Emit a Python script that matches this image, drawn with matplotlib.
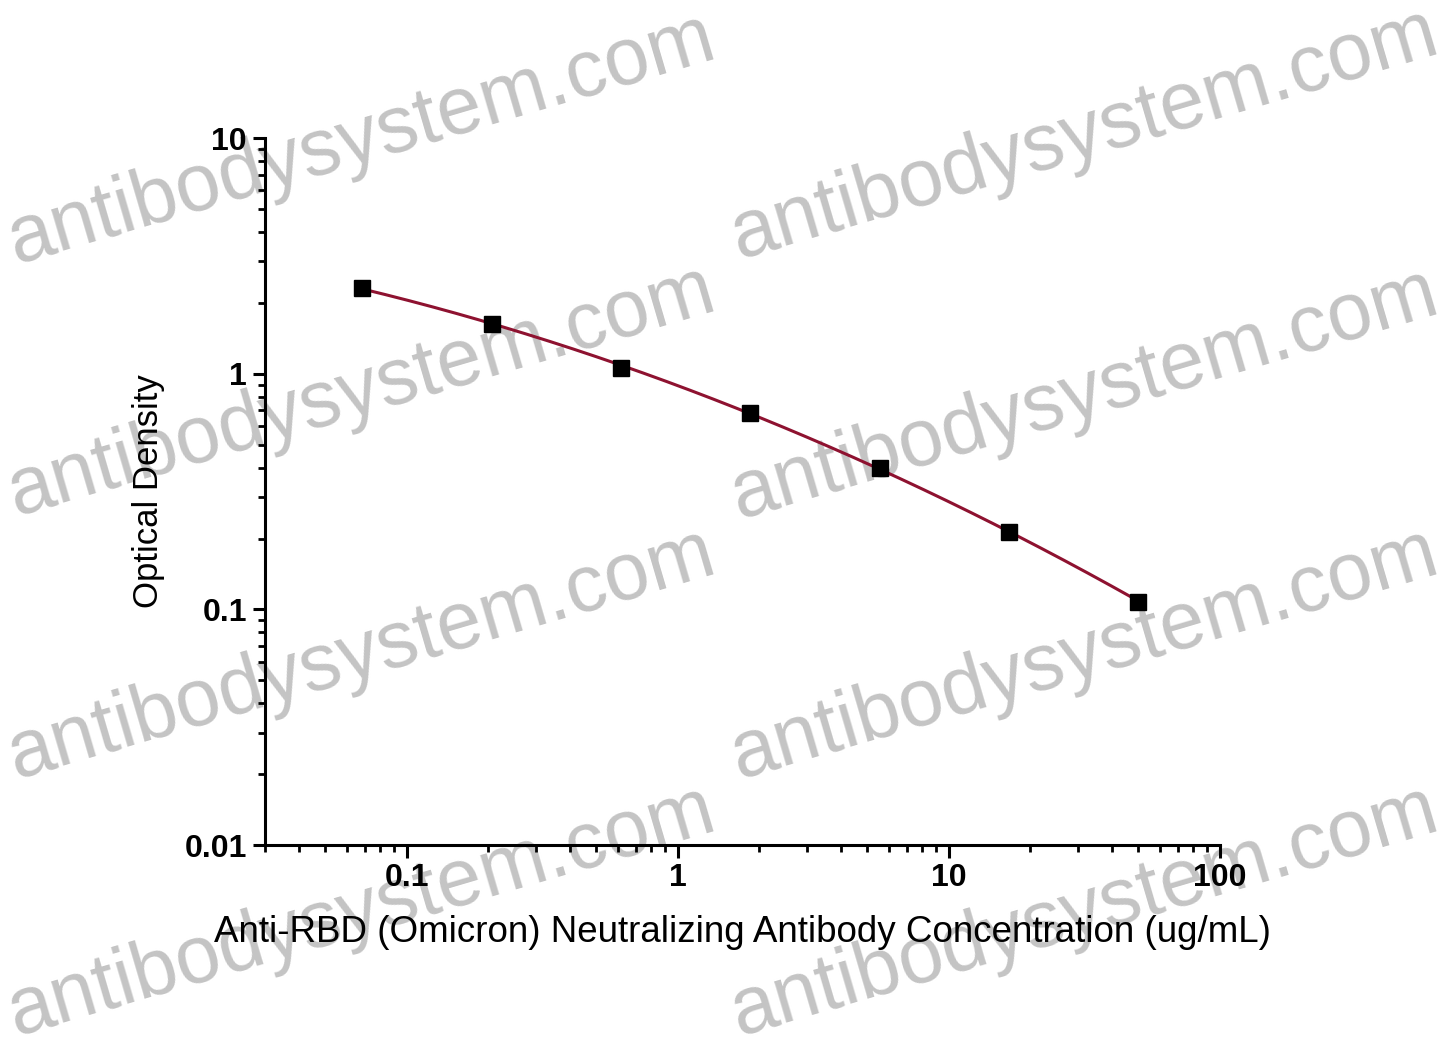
import matplotlib.pyplot as plt
import numpy as np

plt.rcParams['font.family'] = ['Liberation Sans', 'DejaVu Sans']

# ELISA standard curve (3-fold dilutions)
conc = [0.0686, 0.206, 0.617, 1.85, 5.56, 16.7, 50.0]
od = [2.31, 1.63, 1.06, 0.684, 0.40, 0.214, 0.108]

x_label = "Anti-RBD (Omicron) Neutralizing Antibody Concentration (ug/mL)"
y_label = "Optical Density"
watermark = "antibodysystem.com"

fig = plt.figure(figsize=(14.4, 10.46), dpi=100)
ax = fig.add_axes([0.184, 0.192, 0.663, 0.676])
ax.set_zorder(1)
ax.patch.set_alpha(0)

# smooth fit through the points in log-log space
lx, ly = np.log10(conc), np.log10(od)
coef = np.polyfit(lx, ly, 2)
xs = np.linspace(lx.min(), lx.max(), 200)
ax.plot(10 ** xs, 10 ** np.polyval(coef, xs), color='#8e1230', lw=2.2, zorder=3)
ax.plot(conc, od, 's', color='black', ms=11, zorder=4)

ax.set_xscale('log')
ax.set_yscale('log')
ax.set_xlim(0.03, 100)
ax.set_ylim(0.01, 10)
ax.set_xticks([0.1, 1, 10, 100])
ax.set_xticklabels(['0.1', '1', '10', '100'])
ax.set_yticks([0.01, 0.1, 1, 10])
ax.set_yticklabels(['0.01', '0.1', '1', '10'])

for s in ['top', 'right']:
    ax.spines[s].set_visible(False)
for s in ['left', 'bottom']:
    ax.spines[s].set_linewidth(2.2)

ax.tick_params(which='major', direction='out', length=9, width=2.2,
               labelsize=23, pad=4)
ax.tick_params(which='minor', direction='out', length=5, width=2.0)
for lab in ax.get_xticklabels() + ax.get_yticklabels():
    lab.set_fontweight('bold')

ax.set_xlabel(x_label, fontsize=26.5, labelpad=16)
ax.set_ylabel(y_label, fontsize=25, labelpad=14)

# watermark grid
centers = [(362, 140), (1085, 135), (362, 392), (1085, 395),
           (362, 655), (1085, 655), (362, 912), (1085, 912)]
for cx, cy in centers:
    fig.text(cx / 1440, 1 - cy / 1046, watermark, fontsize=58,
             color='#c4c4c4', rotation=16.4,
             ha='center', va='center', rotation_mode='anchor', zorder=0)

fig.savefig('out.png', dpi=100)
plt.close(fig)
